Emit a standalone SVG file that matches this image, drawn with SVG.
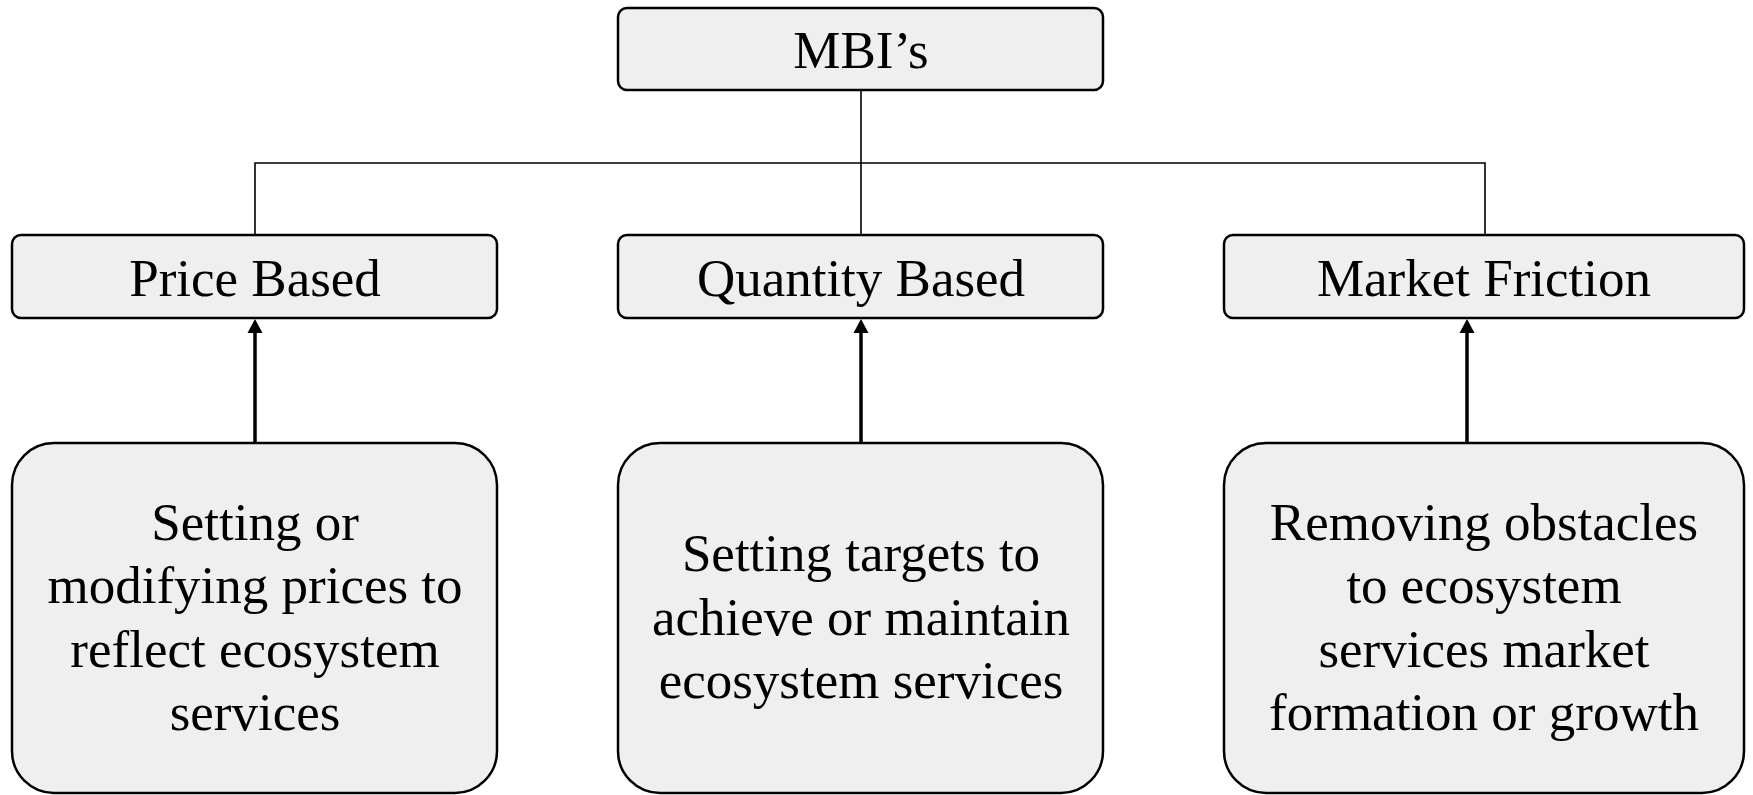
<svg xmlns="http://www.w3.org/2000/svg" width="1753" height="795" viewBox="0 0 1753 795">
<style>
.box{fill:#efefef;stroke:#000;stroke-width:2.5}
.t{font-family:"Liberation Serif","Times New Roman",serif;font-size:53px;fill:#000;text-anchor:middle}
.thin{stroke:#000;stroke-width:1.6;fill:none}
.arr{stroke:#000;stroke-width:3.5;fill:none}
</style>
<defs>
<marker id="ah" markerWidth="16" markerHeight="16" refX="-4" refY="0" viewBox="-8 -8 16 16" orient="auto" markerUnits="userSpaceOnUse">
<path d="M-7,-7.5 L7,0 L-7,7.5 Z" fill="#000"/>
</marker>
</defs>
<rect width="1753" height="795" fill="#fff"/>
<g id="connectors">
<line class="thin" x1="861" y1="90" x2="861" y2="235"/>
<polyline class="thin" points="255,235 255,163 1485,163 1485,235"/>
<line class="arr" x1="255" y1="443" x2="255" y2="330" marker-end="url(#ah)"/>
<line class="arr" x1="861" y1="443" x2="861" y2="330" marker-end="url(#ah)"/>
<line class="arr" x1="1467" y1="443" x2="1467" y2="330" marker-end="url(#ah)"/>
</g>
<g id="mbi">
<rect class="box" x="618" y="8" width="485" height="82" rx="9"/>
<text class="t" x="861" y="68">MBI’s</text>
</g>
<g id="price">
<rect class="box" x="12" y="235" width="485" height="83" rx="9"/>
<text class="t" x="255" y="296">Price Based</text>
</g>
<g id="quantity">
<rect class="box" x="618" y="235" width="485" height="83" rx="9"/>
<text class="t" x="861" y="296">Quantity Based</text>
</g>
<g id="market">
<rect class="box" x="1224" y="235" width="520" height="83" rx="9"/>
<text class="t" x="1484" y="296">Market Friction</text>
</g>
<g id="price-desc">
<rect class="box" x="12" y="443" width="485" height="350" rx="42"/>
<text class="t" x="255" y="540">Setting or</text>
<text class="t" x="255" y="603">modifying prices to</text>
<text class="t" x="255" y="667">reflect ecosystem</text>
<text class="t" x="255" y="730">services</text>
</g>
<g id="quantity-desc">
<rect class="box" x="618" y="443" width="485" height="350" rx="42"/>
<text class="t" x="861" y="571">Setting targets to</text>
<text class="t" x="861" y="635">achieve or maintain</text>
<text class="t" x="861" y="698">ecosystem services</text>
</g>
<g id="market-desc">
<rect class="box" x="1224" y="443" width="520" height="350" rx="42"/>
<text class="t" x="1484" y="540">Removing obstacles</text>
<text class="t" x="1484" y="603">to ecosystem</text>
<text class="t" x="1484" y="667">services market</text>
<text class="t" x="1484" y="730">formation or growth</text>
</g>
</svg>
